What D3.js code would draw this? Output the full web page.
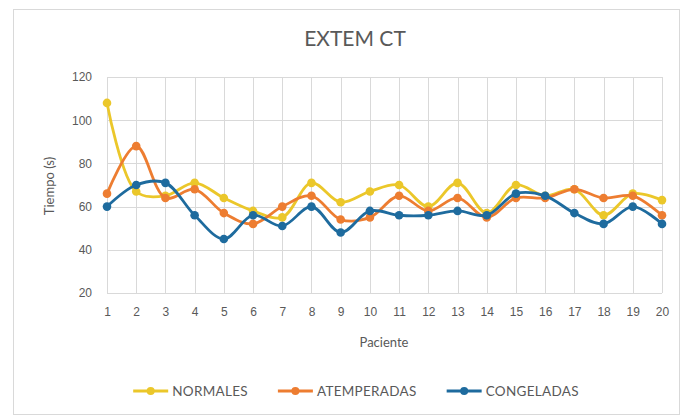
<!DOCTYPE html>
<html>
<head>
<meta charset="utf-8">
<script src="https://cdn.jsdelivr.net/npm/d3@7"></script>
<style>
  html, body { margin: 0; padding: 0; background: #fff; }
  svg { display: block; font-family: Lato, "Open Sans", sans-serif; }
</style>
</head>
<body>
<svg id="chart" width="682" height="418"></svg>
<script>
const pacientes = ["1","2","3","4","5","6","7","8","9","10","11","12","13","14","15","16","17","18","19","20"];
const normales = [108,67,65,71,64,58,55,71,62,67,70,60,71,57,70,65,68,56,66,63];
const atemperadas = [66,88,64,68,57,52,60,65,54,55,65,58,64,55,64,64,68,64,65,56];
const congeladas = [60,70,71,56,45,56,51,60,48,58,56,56,58,56,66,65,57,52,60,52];
const yTicks = [20,40,60,80,100,120];
const seriesNames = ["NORMALES","ATEMPERADAS","CONGELADAS"];
const seriesColors = ["#EBC72A","#ED7D31","#1E6B9E"];
const titleText = "EXTEM CT";
const xTitle = "Paciente";
const yTitle = "Tiempo (s)";

const series = [normales, atemperadas, congeladas].map((v, i) => ({
  name: seriesNames[i], color: seriesColors[i], values: v
}));

const svg = d3.select("#chart");
const textColor = "#595959";

// outer chart border
svg.append("rect").attr("x", 13.5).attr("y", 9.5).attr("width", 666).attr("height", 405)
  .attr("fill", "#fff").attr("stroke", "#d9d9d9").attr("stroke-width", 1);

const x = d3.scalePoint().domain(pacientes).range([107, 662]);
const y = d3.scaleLinear().domain([20, 120]).range([293, 77]);

// gridlines
const grid = svg.append("g");
grid.selectAll("line.h").data(yTicks).enter().append("line")
  .attr("x1", 107).attr("x2", 662)
  .attr("y1", d => Math.round(y(d)) + 0.5).attr("y2", d => Math.round(y(d)) + 0.5)
  .attr("stroke", "#d9d9d9").attr("stroke-width", 1);
grid.selectAll("line.v").data(pacientes).enter().append("line")
  .attr("y1", 77).attr("y2", 293)
  .attr("x1", d => Math.round(x(d)) + 0.5).attr("x2", d => Math.round(x(d)) + 0.5)
  .attr("stroke", "#d9d9d9").attr("stroke-width", 1);

// axes
const yAxis = svg.append("g").attr("transform", "translate(98,0)")
  .call(d3.axisLeft(y).tickValues(yTicks).tickSize(0).tickPadding(6));
yAxis.select(".domain").remove();
yAxis.selectAll("text").attr("fill", textColor).style("font-size", "12px");

const xAxis = svg.append("g").attr("transform", "translate(0,301)")
  .call(d3.axisBottom(x).tickSize(0).tickPadding(6));
xAxis.select(".domain").remove();
xAxis.selectAll("text").attr("fill", textColor).style("font-size", "12px");

// titles
svg.append("text").attr("x", 355).attr("y", 46).attr("text-anchor", "middle")
  .attr("fill", textColor).style("font-size", "21px").text(titleText);
svg.append("text").attr("x", 384).attr("y", 347).attr("text-anchor", "middle")
  .attr("fill", textColor).style("font-size", "13px").text(xTitle);
svg.append("text").attr("transform", "translate(54,186) rotate(-90)").attr("text-anchor", "middle")
  .attr("fill", textColor).style("font-size", "13px").text(yTitle);

// lines (smoothed, as in the original)
const line = d3.line().x((d, i) => x(pacientes[i])).y(d => y(d)).curve(d3.curveCatmullRom.alpha(0.5));
const sg = svg.selectAll("g.series").data(series).enter().append("g");
sg.append("path").attr("d", d => line(d.values)).attr("fill", "none")
  .attr("stroke", d => d.color).attr("stroke-width", 2.8).attr("stroke-linejoin", "round");
sg.each(function(s) {
  d3.select(this).selectAll("circle").data(s.values).enter().append("circle")
    .attr("cx", (d, i) => x(pacientes[i])).attr("cy", d => y(d)).attr("r", 4.3)
    .attr("fill", s.color);
});

// legend
const legend = svg.append("g");
const items = legend.selectAll("g").data(series).enter().append("g");
items.append("line").attr("x1", 0).attr("x2", 35).attr("y1", 0).attr("y2", 0)
  .attr("stroke", d => d.color).attr("stroke-width", 2.8);
items.append("circle").attr("cx", 17.5).attr("cy", 0).attr("r", 4).attr("fill", d => d.color);
items.append("text").attr("x", 39).attr("y", 5).attr("fill", textColor)
  .style("font-size", "13.5px").style("letter-spacing", "0.3px").text(d => d.name);
let widths = [];
items.each(function() { widths.push(this.getBBox().width); });
const gap = 30;
const total = d3.sum(widths) + gap * (widths.length - 1);
let cx = 356 - total / 2;
items.attr("transform", (d, i) => {
  const t = `translate(${cx},391)`;
  cx += widths[i] + gap;
  return t;
});
</script>
</body>
</html>
